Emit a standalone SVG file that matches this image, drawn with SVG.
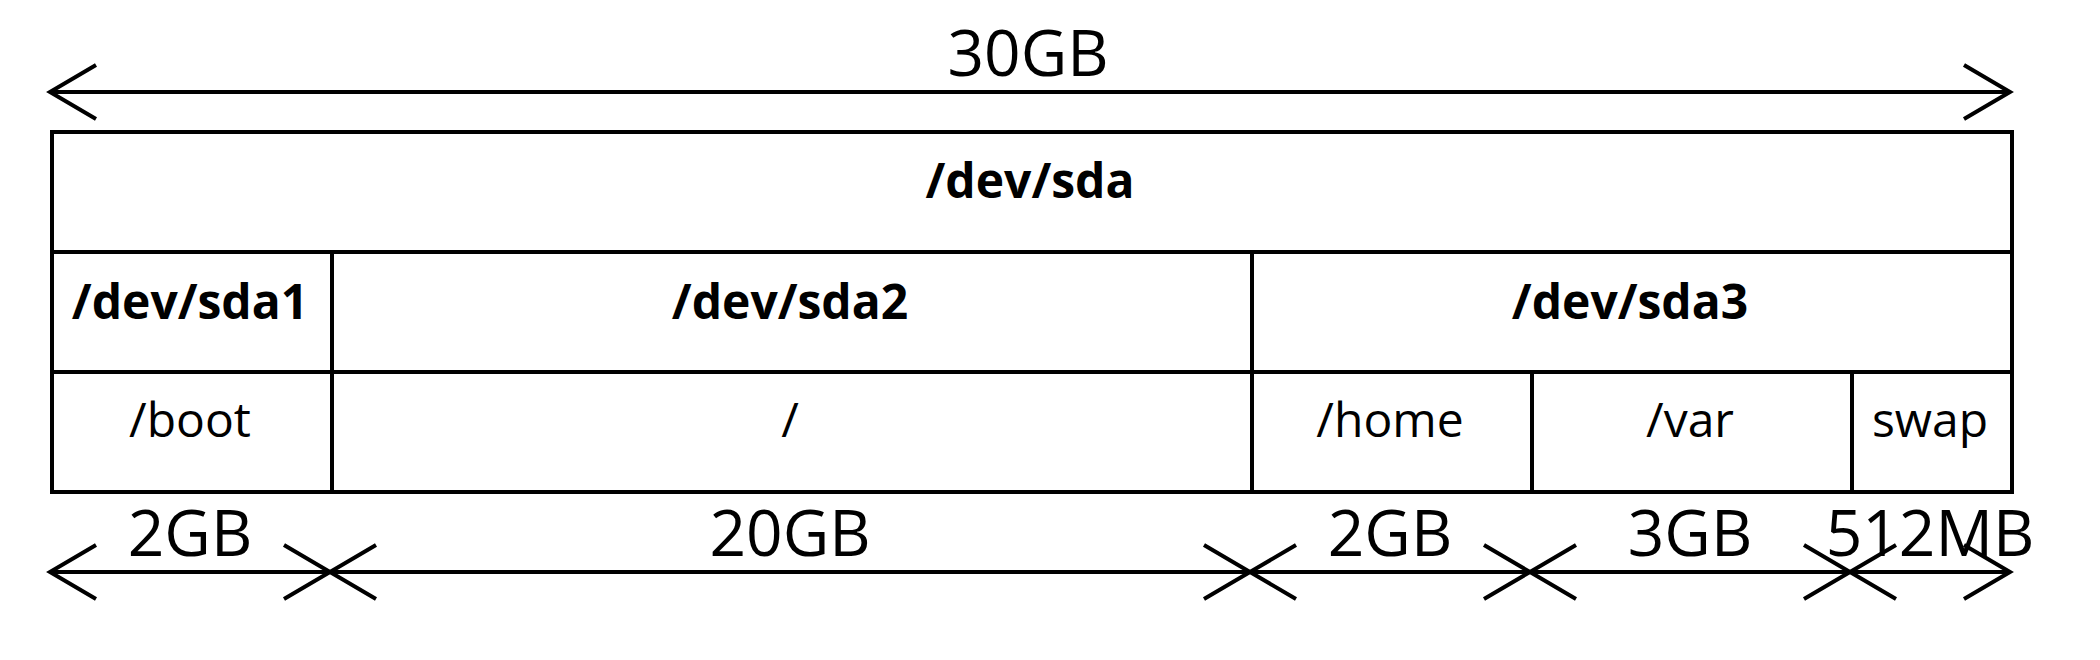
<svg xmlns="http://www.w3.org/2000/svg" width="2100" height="660" viewBox="0 0 2100 660">
  <defs>
    <marker id="arr" markerUnits="userSpaceOnUse" markerWidth="60" markerHeight="70" viewBox="-50 -35 60 70" refX="0" refY="0" orient="auto-start-reverse" overflow="visible">
      <path d="M -46 -27 L 0 0 L -46 27" fill="none" stroke="#000" stroke-width="4"/>
    </marker>
  </defs>
  <style>
    .cell { fill: #fff; stroke: #000; stroke-width: 4; }
    .dim { stroke: #000; stroke-width: 4; fill: none; marker-start: url(#arr); marker-end: url(#arr); }
    .b { font-family: "Open Sans", "Noto Sans", sans-serif; font-weight: bold; font-size: 48px; text-anchor: middle; fill: #000; }
    .r { font-family: "Open Sans", "Noto Sans", sans-serif; font-size: 48px; text-anchor: middle; fill: #000; }
    .sz { font-family: "Open Sans", "Noto Sans", sans-serif; font-size: 64px; text-anchor: middle; fill: #000; }
  </style>
  <rect width="2100" height="660" fill="#fff"/>

  <g id="sda"><rect class="cell" x="52" y="132" width="1960" height="120"/><text class="b" x="1030" y="198">/dev/sda</text></g>
  <g id="sda1"><rect class="cell" x="52" y="252" width="280" height="120"/><text class="b" x="190" y="319">/dev/sda1</text></g>
  <g id="sda2"><rect class="cell" x="332" y="252" width="920" height="120"/><text class="b" x="790" y="319">/dev/sda2</text></g>
  <g id="sda3"><rect class="cell" x="1252" y="252" width="760" height="120"/><text class="b" x="1630" y="319">/dev/sda3</text></g>
  <g id="boot"><rect class="cell" x="52" y="372" width="280" height="120"/><text class="r" x="190" y="437">/boot</text></g>
  <g id="root"><rect class="cell" x="332" y="372" width="920" height="120"/><text class="r" x="790" y="437">/</text></g>
  <g id="home"><rect class="cell" x="1252" y="372" width="280" height="120"/><text class="r" x="1390" y="437">/home</text></g>
  <g id="var"><rect class="cell" x="1532" y="372" width="320" height="120"/><text class="r" x="1690" y="437">/var</text></g>
  <g id="swap"><rect class="cell" x="1852" y="372" width="160" height="120"/><text class="r" x="1930" y="437">swap</text></g>

  <g id="connectors">
    <line class="dim" x1="50" y1="92" x2="2010" y2="92"/>
    <line class="dim" x1="50" y1="572" x2="330" y2="572"/>
    <line class="dim" x1="330" y1="572" x2="1250" y2="572"/>
    <line class="dim" x1="1250" y1="572" x2="1530" y2="572"/>
    <line class="dim" x1="1530" y1="572" x2="1850" y2="572"/>
    <line class="dim" x1="1850" y1="572" x2="2010" y2="572"/>
  </g>

  <g id="labels">
    <text class="sz" x="1028" y="76">30GB</text>
    <text class="sz" x="190" y="556">2GB</text>
    <text class="sz" x="790" y="556">20GB</text>
    <text class="sz" x="1390" y="556">2GB</text>
    <text class="sz" x="1690" y="556">3GB</text>
    <text class="sz" x="1930" y="556">512MB</text>
  </g>
</svg>
